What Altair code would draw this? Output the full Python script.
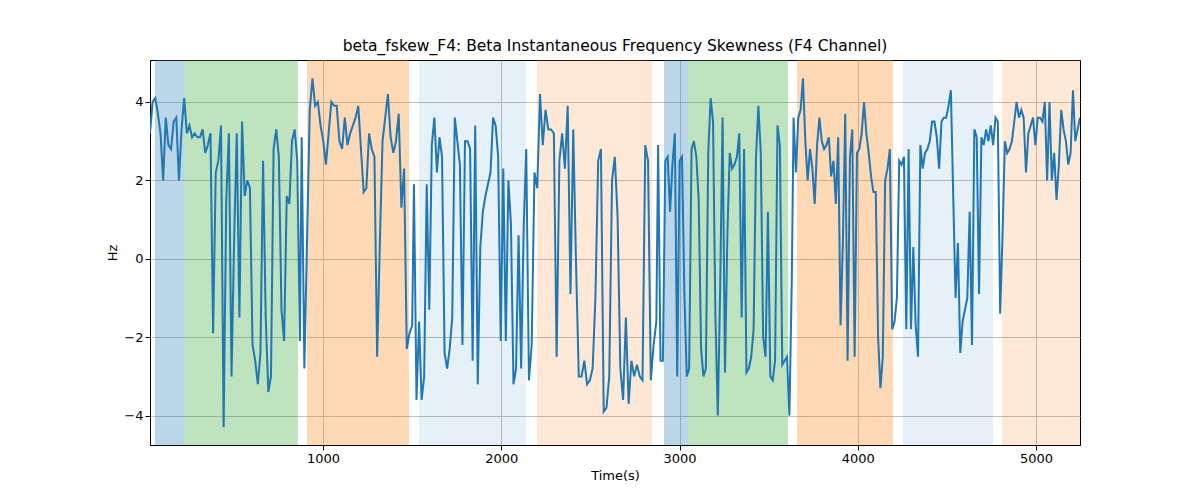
import altair as alt
import pandas as pd

# shaded periods: start, end, colour, opacity
band_start = [57, 220, 910, 1538, 2200, 2913, 3048, 3659, 4254, 4809]
band_end = [220, 859, 1482, 2139, 2846, 3048, 3609, 4198, 4759, 5260]
band_color = ["#1f77b4", "#2ca02c", "#ff7f0e", "#1f77b4", "#ff7f0e",
              "#1f77b4", "#2ca02c", "#ff7f0e", "#1f77b4", "#ff7f0e"]
band_alpha = [0.3, 0.3, 0.3, 0.11, 0.17, 0.3, 0.3, 0.3, 0.11, 0.17]

# signal pieces: (t start, t end, values)
seg_t = [(29, 870), (880, 1500), (1510, 2140), (2155, 2870), (2880, 3630), (3640, 5247)]
seg_v = [
    [3.2, 4.0, 4.1, 3.7, 3.2, 2.0, 3.6, 2.9, 2.8, 3.5, 3.6, 2.0, 3.3, 4.1, 3.2, 3.4, 3.1, 3.2, 3.1, 3.1,
     3.3, 2.7, 2.9, 3.2, -1.9, 2.2, 2.5, 3.4, -4.3, 1.5, 3.2, -3.0, 0.5, 3.2, -1.5, 3.5, 1.6, 2.0, 1.8,
     -2.2, -2.6, -3.2, -2.4, 2.5, -1.5, -3.4, -3.0, 2.8, 3.3, 2.6, -1.3, -2.1, 1.6, 1.4, 3.0, 3.3, 2.5, -2.1],
    [3.1, -2.8, 0.5, 3.8, 4.6, 3.9, 4.0, 3.4, 3.0, 2.4, 3.2, 4.0, 3.9, 3.9, 3.0, 2.8, 3.6, 2.9, 3.2, 3.4,
     3.6, 3.9, 2.8, 1.7, 1.8, 3.2, 2.8, 2.6, -2.5, 0.4, 3.0, 3.6, 4.2, 3.1, 2.7, 3.0, 3.7, 1.3, 2.3, -2.3,
     -1.9, -1.7],
    [1.9, -3.6, -1.6, -3.6, -3.0, 1.9, -1.3, 2.9, 3.6, 2.2, 3.1, 2.6, -2.4, -2.8, -2.3, -1.5, 3.6, 3.0,
     2.4, -2.2, 3.0, 3.0, 2.8, -2.6, 3.4, -3.2, 0.3, 1.2, 1.6, 1.9, 2.2, 3.6, 3.4, 2.6, -2.1, 2.3, -2.1,
     2.0, 0.9, -3.2, -2.8, 0.6, -2.8, 0.8, 2.8],
    [-3.1, -2.2, 2.2, 1.8, 4.2, 2.9, 3.8, 3.3, 3.3, 3.2, -2.5, 2.5, 3.2, 2.3, 3.9, -0.9, 3.3, -0.1, -3.0,
     -3.0, -2.6, -3.2, -3.1, -2.8, -1.0, 2.5, 2.8, -3.9, -3.8, -3.0, 2.0, 2.6, 1.1, -2.8, -3.6, -1.5, -3.7,
     -2.6, -3.0, -2.7, -3.0, -3.1, 2.9, 2.5, -3.1, -2.2, -1.6],
    [2.9, -2.6, -2.6, 2.5, 2.6, 1.2, 2.4, 3.2, -3.0, 2.5, 2.6, -0.9, -3.0, -2.8, 2.8, 3.0, 2.6, 1.5, -2.3,
     -3.0, -2.8, 2.7, 4.1, 3.5, -1.5, -4.0, -0.7, 3.6, -2.9, 0.6, 2.7, 2.3, 2.4, 2.6, 3.2, -1.5, 2.8, -2.9,
     -2.8, -2.5, -1.8, 2.6, 3.9, 2.7, -2.0, -2.5, 1.2, -3.0, -3.1, -2.6, 3.4, 2.9, -2.7, -2.6, -2.5, -4.0,
     -0.5],
    [3.6, 2.2, 3.6, 3.8, 4.6, 3.0, 2.0, 2.8, 2.3, 1.4, 2.9, 3.6, 3.0, 2.8, 2.9, 3.1, 2.1, 2.5, 1.4, 3.1,
     -1.7, 0.4, 3.7, -2.6, 2.6, 3.3, -2.5, 2.7, 2.8, 3.2, 4.0, 3.2, 2.7, 2.1, 1.7, 1.7, -2.0, -3.3, -2.5,
     2.0, 2.3, 2.8, -1.8, -1.6, -1.0, 2.5, 2.4, 2.6, -1.8, 2.8, -1.8, 0.3, -1.7, -2.5, 2.9, 2.3, 2.7, 2.8,
     3.0, 3.5, 3.5, 3.1, 2.3, 3.5, 3.6, 3.6, 3.9, 4.3, 1.6, -1.0, 0.4, -2.4, -1.6, -1.3, -1.0, 1.2, -2.2,
     3.3, 3.1, -0.9, 3.1, 2.9, 3.3, 3.0, 3.4, 2.9, 3.6, 3.5, -1.4, 0.6, 3.0, 2.7, 2.8, 3.0, 3.5, 4.0, 3.6,
     3.8, 3.6, 2.2, 3.2, 3.4, 3.6, 2.9, 3.6, 3.6, 3.5, 4.0, 2.0, 4.0, 2.0, 2.7, 1.5, 2.4, 3.8, 3.3, 3.0,
     2.4, 2.7, 4.3, 3.0, 3.3, 3.6],
]

rows = []
for (t0, t1), vals in zip(seg_t, seg_v):
    n = len(vals)
    for i, v in enumerate(vals):
        rows.append({"t": t0 + (t1 - t0) * i / (n - 1), "v": v})
df = pd.DataFrame(rows)

bands = pd.DataFrame({"s": band_start, "e": band_end, "c": band_color, "a": band_alpha})

xs = alt.Scale(domain=[29, 5247], nice=False, zero=False)
ys = alt.Scale(domain=[-4.75, 5.07], nice=False)

rect = alt.Chart(bands).mark_rect(clip=True).encode(
    x=alt.X("s:Q", scale=xs),
    x2="e:Q",
    color=alt.Color("c:N", scale=None),
    opacity=alt.Opacity("a:Q", scale=None),
)

line = alt.Chart(df).mark_line(color="#1f77b4", strokeWidth=2, clip=True).encode(
    x=alt.X("t:Q", scale=xs, title="Time(s)",
            axis=alt.Axis(values=[1000, 2000, 3000, 4000, 5000], format="d")),
    y=alt.Y("v:Q", scale=ys, title="Hz", axis=alt.Axis(values=[-4, -2, 0, 2, 4])),
)

chart = (rect + line).properties(
    width=930, height=385,
    autosize=alt.AutoSizeParams(type="none"),
    padding={"left": 142, "top": 52, "right": 112, "bottom": 47},
    title=alt.Title("beta_fskew_F4: Beta Instantaneous Frequency Skewness (F4 Channel)",
                    fontSize=15.5, fontWeight="normal", font="DejaVu Sans", offset=6),
).configure_axis(
    grid=True, gridColor="#b0b0b0", gridOpacity=1, gridWidth=0.8,
    labelFont="DejaVu Sans", titleFont="DejaVu Sans", labelFontSize=13, titleFontSize=13,
    titleFontWeight="normal", labelColor="black", titleColor="black",
    domainColor="black", tickColor="black", tickSize=5,
).configure_view(stroke="black", strokeWidth=1)

chart.save("out.html", embed_options={"renderer": "svg", "actions": False})
